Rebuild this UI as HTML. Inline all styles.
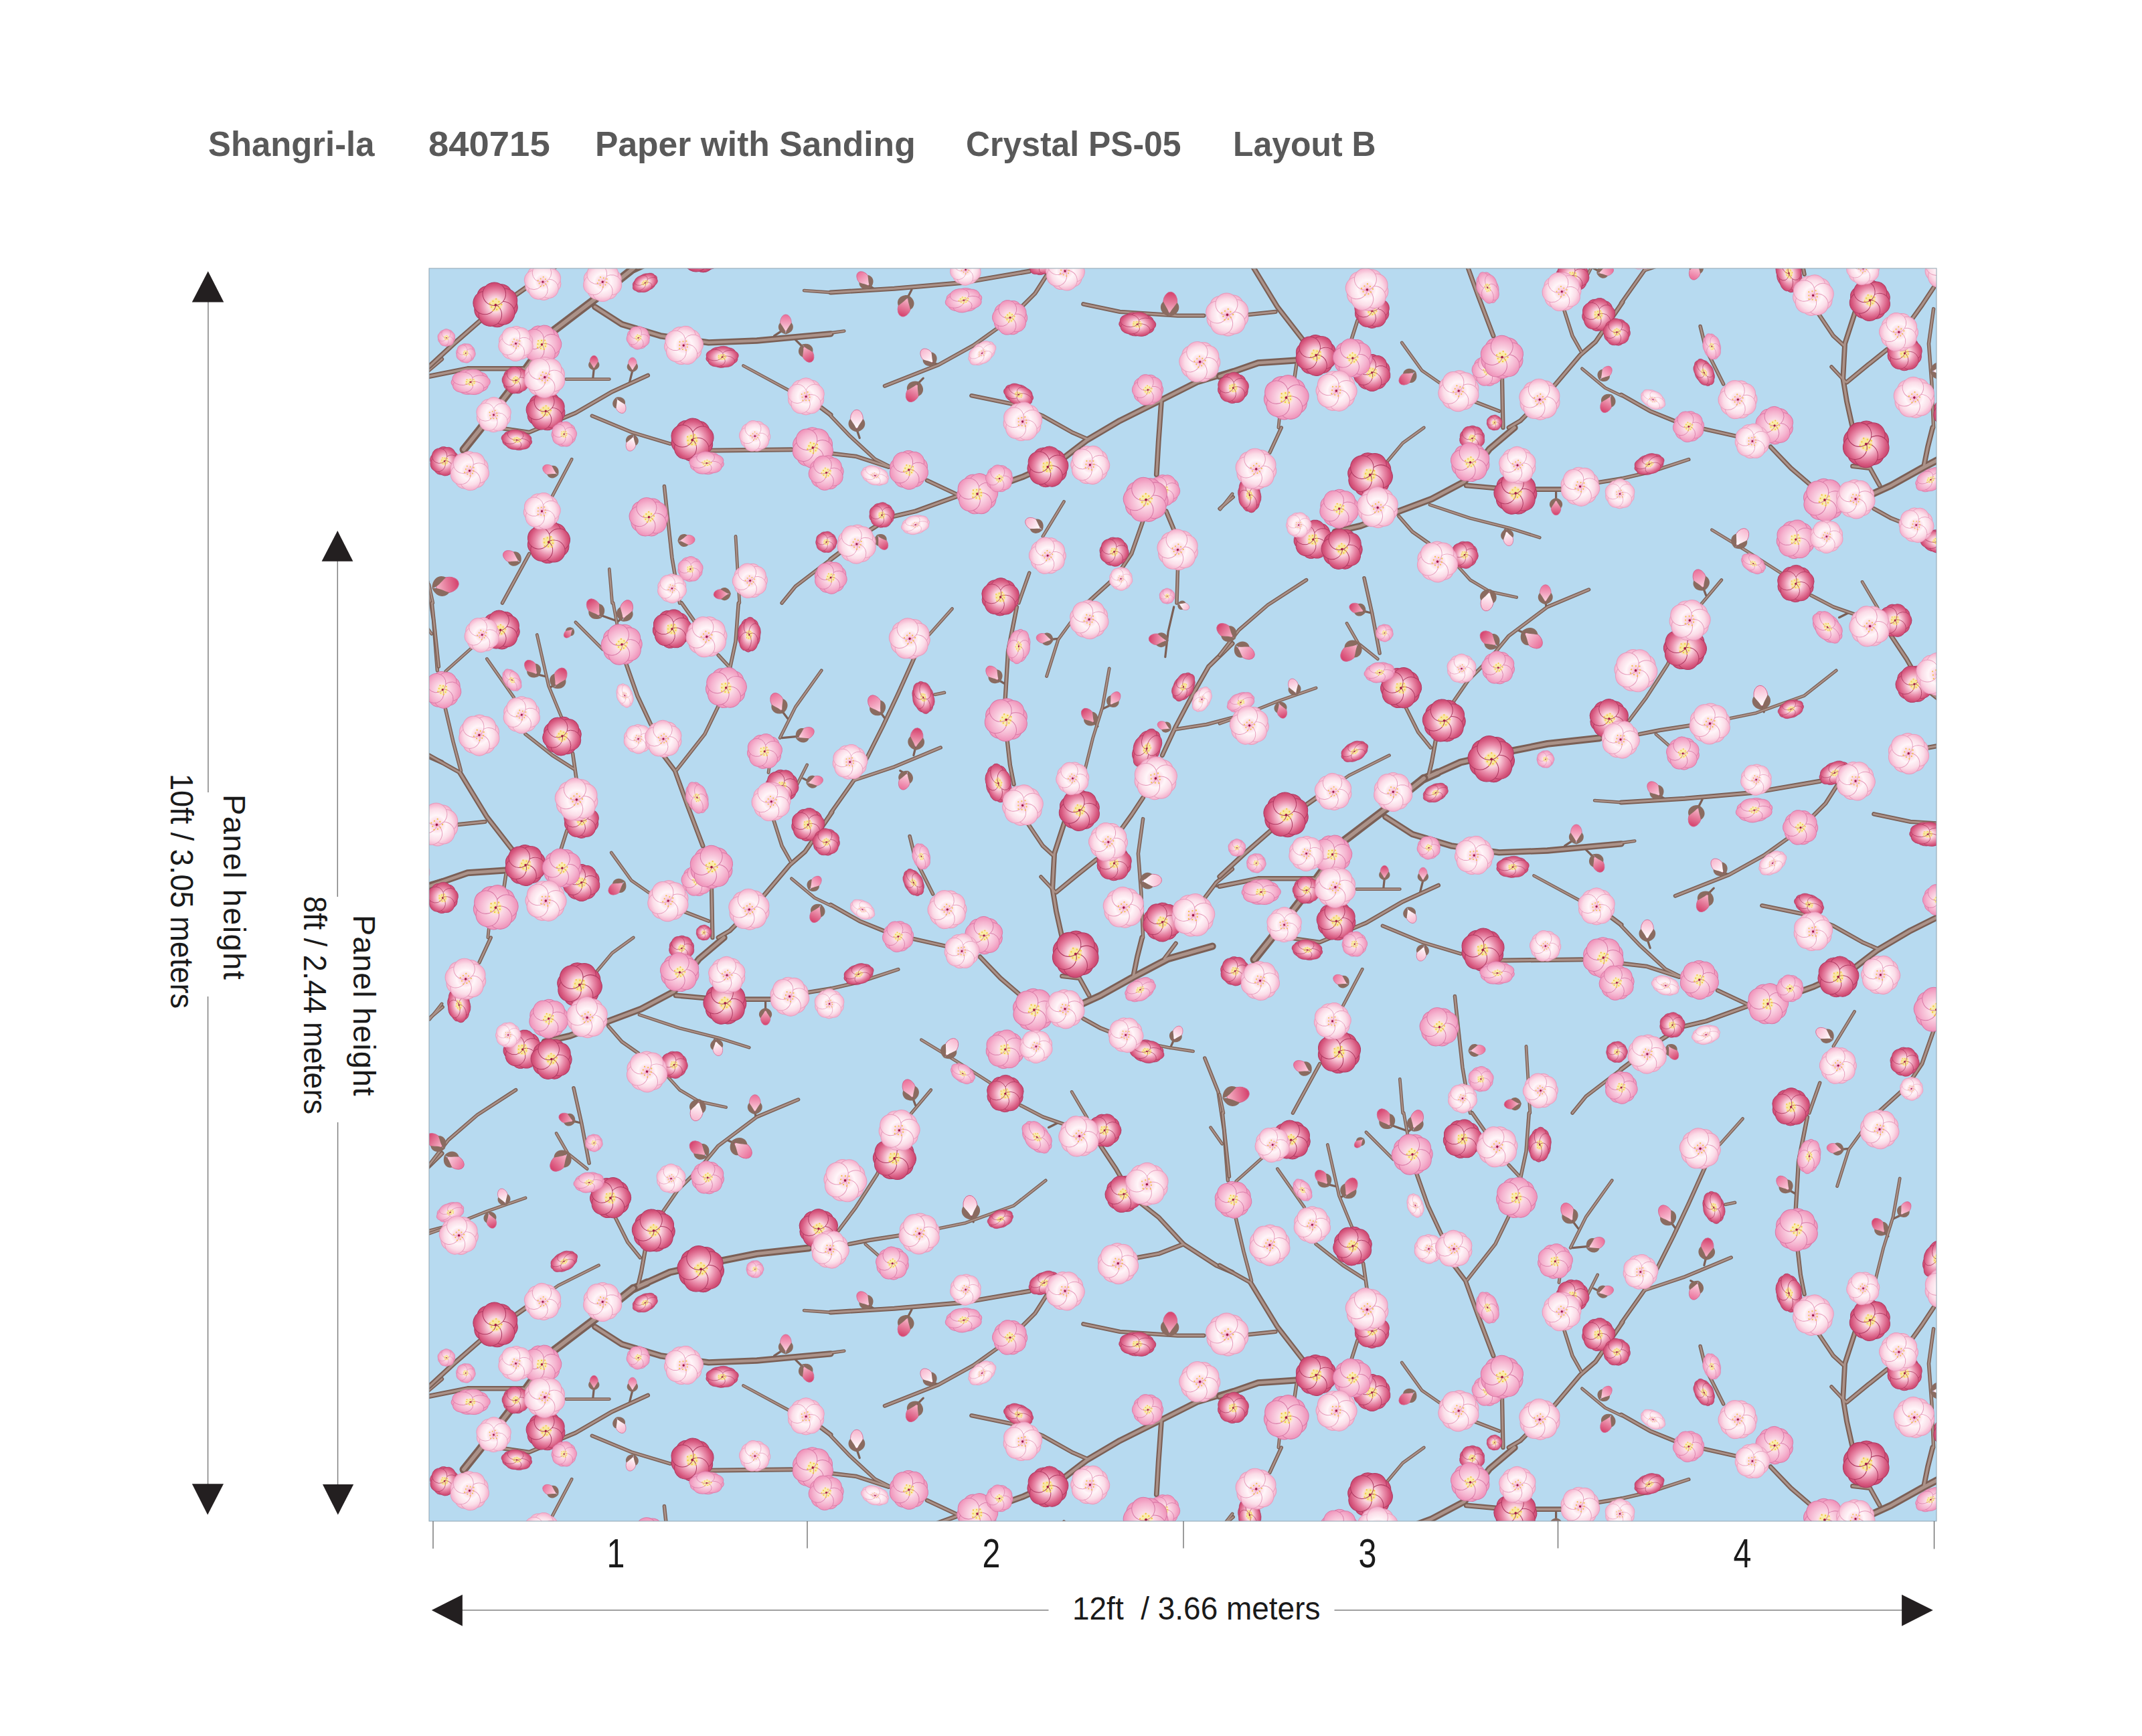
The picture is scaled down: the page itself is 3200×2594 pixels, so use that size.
<!DOCTYPE html>
<html>
<head>
<meta charset="utf-8">
<title>Shangri-la 840715 Layout B</title>
<style>
  html, body { margin: 0; padding: 0; background: #fff; }
  body { width: 3200px; height: 2594px; position: relative; overflow: hidden;
         font-family: "Liberation Sans", sans-serif; color: #1a1a1a; }
  .hd { position: absolute; top: 180px; height: 70px; line-height: 70px; font-size: 52px;
        font-weight: bold; color: #595959; white-space: nowrap; transform-origin: 0 50%; }
  .num { position: absolute; top: 2286px; width: 80px; margin-left: -40px; text-align: center;
         font-size: 62px; line-height: 70px; transform: scaleX(0.78); color: #1a1a1a; }
  .vt { position: absolute; white-space: nowrap; font-size: 47px; line-height: 50px;
        transform-origin: 0 0; transform: rotate(90deg); color: #1a1a1a; }
  .vm { font-size: 48px; transform: rotate(90deg) scaleX(0.94); }
  .ht { position: absolute; white-space: pre; font-size: 49px; line-height: 50px; color: #1a1a1a;
        transform-origin: 0 50%; transform: scaleX(0.938); }
  svg { position: absolute; left: 0; top: 0; }
</style>
</head>
<body>

<!-- header -->
<div class="hd" id="h1" style="left:310.5px; transform:scaleX(0.977);">Shangri-la</div>
<div class="hd" id="h2" style="left:639.5px; transform:scaleX(1.047);">840715</div>
<div class="hd" id="h3" style="left:889px; transform:scaleX(0.992);">Paper with Sanding</div>
<div class="hd" id="h4" style="left:1442.5px; transform:scaleX(0.959);">Crystal PS-05</div>
<div class="hd" id="h5" style="left:1842px; transform:scaleX(0.960);">Layout B</div>

<!-- main drawing -->
<svg id="art" width="3200" height="2594" viewBox="0 0 3200 2594">
  <defs>
    <clipPath id="pc"><rect x="641" y="401" width="2252" height="1872"/></clipPath>
  </defs>

  <!-- panel background -->
  <rect x="641" y="401" width="2252" height="1872" fill="#b7daf0"/>

  <g clip-path="url(#pc)" id="pattern">
    <defs>
<radialGradient id="gW" gradientUnits="userSpaceOnUse" cx="0" cy="0" r="1"><stop offset="0" stop-color="#f5a9c5"/><stop offset="0.15" stop-color="#fbd3e1"/><stop offset="0.42" stop-color="#fff6f9"/><stop offset="0.72" stop-color="#fbdde8"/><stop offset="1" stop-color="#f4a8c8"/></radialGradient>
<radialGradient id="gP" gradientUnits="userSpaceOnUse" cx="0" cy="0" r="1"><stop offset="0" stop-color="#f6ea8c"/><stop offset="0.2" stop-color="#fbedb2"/><stop offset="0.32" stop-color="#fbdbe7"/><stop offset="0.7" stop-color="#f5b3cf"/><stop offset="1" stop-color="#ee8db6"/></radialGradient>
<radialGradient id="gC" gradientUnits="userSpaceOnUse" cx="0" cy="0" r="1"><stop offset="0" stop-color="#f6ea8c"/><stop offset="0.2" stop-color="#f9e6a2"/><stop offset="0.32" stop-color="#fad6e0"/><stop offset="0.6" stop-color="#ea8dab"/><stop offset="0.85" stop-color="#d6577e"/><stop offset="1" stop-color="#c5416a"/></radialGradient>
<linearGradient id="lb" x1="0" y1="0" x2="0" y2="1"><stop offset="0" stop-color="#ea6d98"/><stop offset="1" stop-color="#fbd3e0"/></linearGradient>
<linearGradient id="lc" x1="0" y1="0" x2="0" y2="1"><stop offset="0" stop-color="#d43f6b"/><stop offset="1" stop-color="#f6b5c8"/></linearGradient>
<linearGradient id="lw" x1="0" y1="0" x2="0" y2="1"><stop offset="0" stop-color="#f7b4cd"/><stop offset="1" stop-color="#ffffff"/></linearGradient>
<g id="fW"><g fill="url(#gW)" stroke="#e79bbb" stroke-width="0.03"><circle cx="0.294" cy="-0.405" r="0.46"/><circle cx="0.476" cy="0.155" r="0.46"/><circle cx="0.000" cy="0.500" r="0.46"/><circle cx="-0.476" cy="0.155" r="0.46"/><circle cx="-0.294" cy="-0.405" r="0.46"/><circle cx="0.000" cy="-0.480" r="0.5"/><circle cx="0.457" cy="-0.148" r="0.5"/><circle cx="0.282" cy="0.388" r="0.5"/><circle cx="-0.282" cy="0.388" r="0.5"/><circle cx="-0.457" cy="-0.148" r="0.5"/></g><g fill="#f2c14e"><circle cx="0.197" cy="0.035" r="0.035"/><circle cx="0.167" cy="0.199" r="0.035"/><circle cx="0.000" cy="0.200" r="0.035"/><circle cx="-0.167" cy="0.199" r="0.035"/><circle cx="-0.197" cy="0.035" r="0.035"/><circle cx="-0.225" cy="-0.130" r="0.035"/><circle cx="-0.068" cy="-0.188" r="0.035"/><circle cx="0.089" cy="-0.244" r="0.035"/><circle cx="0.173" cy="-0.100" r="0.035"/></g><circle r="0.055" fill="#a01845"/></g>
<g id="fP"><g fill="url(#gP)" stroke="#d978a6" stroke-width="0.03"><circle cx="0.294" cy="-0.405" r="0.46"/><circle cx="0.476" cy="0.155" r="0.46"/><circle cx="0.000" cy="0.500" r="0.46"/><circle cx="-0.476" cy="0.155" r="0.46"/><circle cx="-0.294" cy="-0.405" r="0.46"/><circle cx="0.000" cy="-0.480" r="0.5"/><circle cx="0.457" cy="-0.148" r="0.5"/><circle cx="0.282" cy="0.388" r="0.5"/><circle cx="-0.282" cy="0.388" r="0.5"/><circle cx="-0.457" cy="-0.148" r="0.5"/></g><g fill="#f0c83a"><circle cx="0.197" cy="0.035" r="0.035"/><circle cx="0.167" cy="0.199" r="0.035"/><circle cx="0.000" cy="0.200" r="0.035"/><circle cx="-0.167" cy="0.199" r="0.035"/><circle cx="-0.197" cy="0.035" r="0.035"/><circle cx="-0.225" cy="-0.130" r="0.035"/><circle cx="-0.068" cy="-0.188" r="0.035"/><circle cx="0.089" cy="-0.244" r="0.035"/><circle cx="0.173" cy="-0.100" r="0.035"/></g><circle r="0.055" fill="#a01845"/></g>
<g id="fC"><g fill="url(#gC)" stroke="#b03a62" stroke-width="0.03"><circle cx="0.294" cy="-0.405" r="0.46"/><circle cx="0.476" cy="0.155" r="0.46"/><circle cx="0.000" cy="0.500" r="0.46"/><circle cx="-0.476" cy="0.155" r="0.46"/><circle cx="-0.294" cy="-0.405" r="0.46"/><circle cx="0.000" cy="-0.480" r="0.5"/><circle cx="0.457" cy="-0.148" r="0.5"/><circle cx="0.282" cy="0.388" r="0.5"/><circle cx="-0.282" cy="0.388" r="0.5"/><circle cx="-0.457" cy="-0.148" r="0.5"/></g><g fill="#f2cf45"><circle cx="0.197" cy="0.035" r="0.035"/><circle cx="0.167" cy="0.199" r="0.035"/><circle cx="0.000" cy="0.200" r="0.035"/><circle cx="-0.167" cy="0.199" r="0.035"/><circle cx="-0.197" cy="0.035" r="0.035"/><circle cx="-0.225" cy="-0.130" r="0.035"/><circle cx="-0.068" cy="-0.188" r="0.035"/><circle cx="0.089" cy="-0.244" r="0.035"/><circle cx="0.173" cy="-0.100" r="0.035"/></g><circle r="0.055" fill="#a01845"/></g>
<g id="ub"><ellipse cx="0" cy="-0.15" rx="0.56" ry="0.82" fill="url(#lb)" stroke="#d4658f" stroke-width="0.05"/><path d="M0,1 C-0.85,0.8 -0.85,0.1 -0.55,-0.15 C-0.3,0.3 0,0.55 0,1Z M0,1 C0.85,0.8 0.85,0.1 0.55,-0.15 C0.3,0.3 0,0.55 0,1Z" fill="#8a6b60"/></g>
<g id="uc"><ellipse cx="0" cy="-0.15" rx="0.56" ry="0.82" fill="url(#lc)" stroke="#d4658f" stroke-width="0.05"/><path d="M0,1 C-0.85,0.8 -0.85,0.1 -0.55,-0.15 C-0.3,0.3 0,0.55 0,1Z M0,1 C0.85,0.8 0.85,0.1 0.55,-0.15 C0.3,0.3 0,0.55 0,1Z" fill="#8a6b60"/></g>
<g id="uw"><ellipse cx="0" cy="-0.15" rx="0.56" ry="0.82" fill="url(#lw)" stroke="#d4658f" stroke-width="0.05"/><path d="M0,1 C-0.85,0.8 -0.85,0.1 -0.55,-0.15 C-0.3,0.3 0,0.55 0,1Z M0,1 C0.85,0.8 0.85,0.1 0.55,-0.15 C0.3,0.3 0,0.55 0,1Z" fill="#8a6b60"/></g>
<g id="tb" fill="none" stroke-linecap="round" stroke-linejoin="round">
<g stroke="#7b5f55"><path d="M305.3,0.0 L247.7,46.1 L187.2,92.2 L123.9,178.6 L74.9,242.0 L51.8,270.8" stroke-width="12.5"/><path d="M325.5,1515.6 L305.3,1524.8" stroke-width="12.5"/><path d="M567.5,1463.8 L489.7,1472.4 L432.1,1483.9 L360.1,1500.0 L325.5,1515.6" stroke-width="10.8"/><path d="M1170.3,1013.0 L1104.1,1031.7 L1049.4,1060.5 L1003.3,1086.4 L971.6,1100.8" stroke-width="10.8"/><path d="M0.0,923.4 L57.6,903.3 L121.0,898.9" stroke-width="10.0"/><path d="M440.7,1000.0 L403.3,1031.7 L365.8,1080.7 L316.9,1106.6 L270.8,1123.9 L210.3,1146.9 L172.8,1155.5" stroke-width="10.0"/><path d="M247.7,57.6 L288.0,83.5 L345.7,100.8 L417.7,110.9 L489.7,108.0 L600.0,97.9" stroke-width="9.3"/><path d="M1200.0,154.1 L1147.3,169.9 L1089.7,198.8 L1032.1,227.6 L983.1,256.4 L945.7,285.2 L888.0,311.1 L867.9,318.3" stroke-width="9.3"/><path d="M1094.0,198.8 L1089.7,259.2 L1086.8,308.2" stroke-width="7.8"/><path d="M46.1,753.5 L86.4,819.7 L126.7,871.6" stroke-width="7.8"/><path d="M950.0,825.5 L934.1,874.5 L931.3,926.3 L937.0,960.9 L945.7,1000.0" stroke-width="7.8"/><path d="M368.7,1086.4 L432.1,1092.2 L512.7,1092.2" stroke-width="7.8"/><path d="M1065.2,1000.0 L1058.0,1028.8 L1052.2,1057.6" stroke-width="7.8"/><path d="M0.0,146.9 L37.4,112.3 L83.5,72.0 L146.9,27.4" stroke-width="7.4"/><path d="M0.0,161.3 L57.6,149.8 L141.1,149.8" stroke-width="7.4"/><path d="M411.9,272.2 L541.5,270.8" stroke-width="7.0"/><path d="M584.7,207.4 L600.0,218.9" stroke-width="7.0"/><path d="M600.0,36.0 L695.1,30.2 L795.9,21.6 L896.7,4.3" stroke-width="7.0"/><path d="M790.1,339.9 L726.7,362.9 L689.3,371.6 L657.6,391.7 L600.0,434.9" stroke-width="7.0"/><path d="M1101.2,362.9 L1115.6,397.5" stroke-width="7.0"/><path d="M350.0,727.6 L367.3,750.6 L386.0,802.4 L409.0,862.9" stroke-width="7.0"/><path d="M602.0,812.5 L561.7,871.6 L538.6,891.7 L489.7,949.4 L449.4,989.7 L432.1,1000.0" stroke-width="7.0"/><path d="M1200.0,560.5 L1164.6,595.1 L1141.5,635.4 L1115.6,684.3 L1095.4,727.6" stroke-width="7.0"/><path d="M1066.6,790.9 L1049.4,816.9 L1034.9,837.0" stroke-width="7.0"/><path d="M997.5,883.1 L968.7,906.1 L937.0,932.1" stroke-width="7.0"/><path d="M823.2,1028.8 L853.5,1060.5 L883.7,1086.4" stroke-width="7.0"/><path d="M945.7,1057.6 L971.6,1060.5 L986.0,1086.4" stroke-width="7.0"/><path d="M1003.3,1311.1 L1026.3,1345.7 L1049.4,1386.0 L1089.7,1417.7 L1127.1,1458.0 L1176.1,1489.7 L1200.0,1500.0" stroke-width="7.0"/><path d="M1127.1,1458.0 L1089.7,1472.4 L1058.0,1478.2" stroke-width="7.0"/><path d="M109.5,239.1 L149.8,244.8 L218.9,216.0 L273.6,184.3 L326.9,159.9" stroke-width="6.3"/><path d="M925.5,5.8 L905.3,37.4 L885.2,57.6" stroke-width="6.3"/><path d="M977.3,53.3 L1032.1,64.8 L1118.5,70.6 L1157.4,70.6" stroke-width="6.3"/><path d="M810.3,190.1 L873.6,203.1 L916.9,220.4 L960.1,244.8 L983.1,254.9" stroke-width="6.3"/><path d="M744.0,316.9 L790.1,338.5" stroke-width="6.3"/><path d="M600.0,276.5 L637.4,280.8 L686.4,296.7" stroke-width="6.3"/><path d="M1066.6,377.3 L1049.4,426.3 L1026.3,460.9 L983.1,500.0" stroke-width="6.3"/><path d="M0.0,727.6 L46.1,753.5" stroke-width="6.3"/><path d="M28.8,832.7 L83.5,826.9" stroke-width="6.3"/><path d="M293.8,589.3 L311.1,638.3 L331.3,681.5" stroke-width="6.3"/><path d="M422.0,926.3 L423.4,1000.0" stroke-width="6.3"/><path d="M725.3,580.7 L700.8,635.4 L677.8,684.3 L654.7,730.4 L634.6,765.0 L600.0,814.0" stroke-width="6.3"/><path d="M878.0,505.8 L865.0,572.0 L860.7,644.0" stroke-width="6.3"/><path d="M863.6,704.5 L867.9,742.0 L873.6,770.8" stroke-width="6.3"/><path d="M893.8,828.4 L916.9,862.9 L932.7,877.3" stroke-width="6.3"/><path d="M600.0,950.8 L643.2,975.3 L689.3,994.0" stroke-width="6.3"/><path d="M1200.0,897.5 L1176.1,917.7 L1158.8,940.7" stroke-width="6.3"/><path d="M564.6,1082.1 L600.0,1076.3" stroke-width="6.3"/><path d="M345.7,1414.8 L325.5,1452.2 L316.9,1500.0 L312.5,1518.5" stroke-width="6.3"/><path d="M721.0,1001.4 L772.8,1013.0" stroke-width="6.3"/><path d="M1115.6,1008.6 L1098.3,1031.7" stroke-width="6.3"/><path d="M977.3,1121.0 L1003.3,1135.4 L1017.7,1141.1" stroke-width="6.3"/><path d="M703.7,1445.0 L657.6,1452.2 L627.4,1458.0" stroke-width="6.3"/><path d="M853.5,86.4 L813.2,115.2 L761.3,144.0 L680.7,175.7" stroke-width="5.9"/><path d="M243.4,220.4 L302.4,244.8 L360.1,262.1" stroke-width="5.5"/><path d="M149.8,426.3 L109.5,500.0" stroke-width="5.5"/><path d="M351.4,325.5 L362.9,432.1 L374.5,500.0" stroke-width="5.5"/><path d="M600.0,434.9 L547.3,475.3 L527.1,500.0" stroke-width="5.5"/><path d="M600.0,220.4 L628.8,250.6 L666.3,285.2 L689.3,296.7" stroke-width="5.5"/><path d="M896.7,455.1 L880.8,500.0" stroke-width="5.5"/><path d="M1118.5,449.4 L1117.0,500.0" stroke-width="5.5"/><path d="M4.3,500.0 L14.4,595.1" stroke-width="5.5"/><path d="M24.5,658.4 L36.0,707.4 L47.5,750.6" stroke-width="5.5"/><path d="M115.2,903.3 L110.9,932.1" stroke-width="5.5"/><path d="M144.0,695.9 L184.3,727.6 L216.0,747.7" stroke-width="5.5"/><path d="M214.6,724.7 L220.4,765.0" stroke-width="5.5"/><path d="M206.0,839.9 L195.9,871.6" stroke-width="5.5"/><path d="M370.1,749.2 L411.9,695.9 L433.5,651.2" stroke-width="5.5"/><path d="M377.3,500.0 L397.5,528.8" stroke-width="5.5"/><path d="M432.1,577.8 L449.4,596.5" stroke-width="5.5"/><path d="M462.3,500.0 L458.0,557.6 L449.4,597.9" stroke-width="5.5"/><path d="M514.2,822.6 L527.1,862.9 L540.1,886.0" stroke-width="5.5"/><path d="M380.2,960.9 L417.7,975.3" stroke-width="5.5"/><path d="M634.6,765.0 L695.1,744.8 L764.2,716.0" stroke-width="5.5"/><path d="M1115.6,688.7 L1161.7,681.5 L1200.0,671.4" stroke-width="5.5"/><path d="M914.0,909.0 L935.6,932.1" stroke-width="5.5"/><path d="M1066.6,822.6 L1059.4,874.5 L1063.8,932.1 L1066.6,1000.0" stroke-width="5.5"/><path d="M718.1,848.5 L726.7,883.1 L752.7,934.9" stroke-width="5.5"/><path d="M92.2,1000.0 L74.9,1037.4" stroke-width="5.5"/><path d="M20.2,1103.7 L0.0,1121.0" stroke-width="5.5"/><path d="M267.9,1132.5 L288.0,1155.5 L312.5,1172.8" stroke-width="5.5"/><path d="M129.6,1227.6 L72.0,1265.0 L28.8,1302.4 L0.0,1339.9" stroke-width="5.5"/><path d="M216.0,1224.7 L227.6,1276.5 L239.1,1337.0" stroke-width="5.5"/><path d="M551.6,1242.0 L489.7,1267.9 L432.1,1311.1 L403.3,1345.7 L371.6,1377.3 L345.7,1414.8" stroke-width="5.5"/><path d="M276.5,1414.8 L296.7,1455.1 L315.4,1478.2" stroke-width="5.5"/><path d="M700.8,1047.5 L643.2,1066.3 L600.0,1076.3" stroke-width="5.5"/><path d="M883.7,1250.6 L916.9,1267.9 L950.0,1279.4" stroke-width="5.5"/><path d="M689.3,1311.1 L669.1,1354.3 L637.4,1403.3 L611.5,1437.8" stroke-width="5.5"/><path d="M1158.8,1180.0 L1179.0,1230.4 L1187.6,1288.0 L1193.4,1362.9" stroke-width="5.5"/><path d="M204.5,165.6 L269.3,165.6" stroke-width="4.8"/><path d="M469.5,145.5 L538.6,182.9" stroke-width="4.8"/><path d="M213.2,285.2 L184.3,339.9" stroke-width="4.8"/><path d="M458.0,400.4 L463.8,500.0" stroke-width="4.8"/><path d="M269.3,449.4 L273.6,500.0" stroke-width="4.8"/><path d="M560.2,33.1 L600.0,36.0" stroke-width="4.8"/><path d="M0.0,472.4 L5.8,500.0" stroke-width="4.8"/><path d="M600.0,96.5 L620.2,93.6" stroke-width="4.8"/><path d="M948.5,348.5 L916.9,400.4" stroke-width="4.8"/><path d="M19.0,1099.0 L0.9,1122.1" stroke-width="4.8"/><path d="M66.3,564.8 L24.5,602.3" stroke-width="4.8"/><path d="M86.4,583.5 L126.7,641.1" stroke-width="4.8"/><path d="M161.3,547.5 L178.6,623.9 L198.8,672.8" stroke-width="4.8"/><path d="M218.9,528.8 L259.2,569.1" stroke-width="4.8"/><path d="M275.1,500.0 L280.8,531.7" stroke-width="4.8"/><path d="M586.2,600.8 L547.3,655.5 L524.2,701.6" stroke-width="4.8"/><path d="M511.3,724.7 L507.0,753.5" stroke-width="4.8"/><path d="M564.6,742.0 L547.3,776.5" stroke-width="4.8"/><path d="M541.5,911.9 L576.1,940.7 L600.0,952.2" stroke-width="4.8"/><path d="M272.2,873.0 L302.4,914.8 L331.3,934.9" stroke-width="4.8"/><path d="M89.3,986.8 L87.9,1000.0" stroke-width="4.8"/><path d="M781.5,508.6 L746.9,547.5" stroke-width="4.8"/><path d="M769.9,633.9 L755.5,636.8" stroke-width="4.8"/><path d="M958.6,528.8 L939.9,554.7 L922.6,609.5" stroke-width="4.8"/><path d="M1016.2,597.9 L1006.1,655.5 L991.7,701.6 L980.2,747.7" stroke-width="4.8"/><path d="M305.3,1000.0 L273.6,1023.0 L250.6,1050.4" stroke-width="4.8"/><path d="M314.0,1115.2 L374.5,1135.4 L432.1,1149.8 L478.2,1164.2" stroke-width="4.8"/><path d="M348.5,1198.8 L374.5,1227.6 L403.3,1244.8 L443.6,1253.5" stroke-width="4.8"/><path d="M190.1,1292.4 L207.4,1322.6 L236.2,1345.7" stroke-width="4.8"/><path d="M144.0,1388.9 L86.4,1409.0 L28.8,1432.1 L0.0,1442.2" stroke-width="4.8"/><path d="M253.5,1489.7 L193.0,1519.9 L148.3,1551.6" stroke-width="4.8"/><path d="M1060.9,1155.5 L1104.1,1164.2 L1141.5,1169.9" stroke-width="4.8"/><path d="M735.4,1152.7 L787.2,1184.3 L839.1,1217.5" stroke-width="4.8"/><path d="M960.1,1230.4 L983.1,1269.3" stroke-width="4.8"/><path d="M749.8,1227.6 L719.5,1263.6" stroke-width="4.8"/><path d="M921.2,1362.9 L873.6,1400.4 L801.6,1426.3 L759.9,1434.9" stroke-width="4.8"/><path d="M651.8,1458.0 L674.9,1478.2" stroke-width="4.8"/><path d="M1167.5,1283.7 L1184.7,1308.2" stroke-width="4.8"/><path d="M244.8,164.2 L246.3,149.8" stroke-width="3.2"/><path d="M299.6,169.9 L303.9,152.7" stroke-width="3.2"/><path d="M515.6,100.8 L532.9,89.3" stroke-width="3.2"/><path d="M547.3,106.6 L561.7,121.0" stroke-width="3.2"/><path d="M638.9,240.5 L643.2,253.5" stroke-width="3.2"/><path d="M657.6,25.9 L666.3,31.7" stroke-width="3.2"/><path d="M715.2,43.2 L721.0,31.7" stroke-width="3.2"/><path d="M752.7,141.1 L761.3,144.0" stroke-width="3.2"/><path d="M729.6,172.8 L738.3,164.2" stroke-width="3.2"/><path d="M253.5,517.3 L278.0,525.9" stroke-width="3.2"/><path d="M290.9,520.2 L280.8,528.8" stroke-width="3.2"/><path d="M161.3,606.6 L172.8,609.5" stroke-width="3.2"/><path d="M190.1,621.0 L180.0,626.7" stroke-width="3.2"/><path d="M527.1,661.3 L535.8,672.8" stroke-width="3.2"/><path d="M555.9,698.8 L527.1,701.6" stroke-width="3.2"/><path d="M570.3,767.9 L558.8,762.1" stroke-width="3.2"/><path d="M723.9,727.6 L726.7,716.0" stroke-width="3.2"/><path d="M926.9,554.7 L939.9,553.3" stroke-width="3.2"/><path d="M1112.7,505.8 L1104.1,543.2 L1099.8,580.7" stroke-width="3.2"/><path d="M19.0,155.7 L-4.9,161.4" stroke-width="3.2"/><path d="M674.9,664.2 L683.5,675.7" stroke-width="3.2"/><path d="M850.6,615.2 L860.7,621.0" stroke-width="3.2"/><path d="M993.2,678.6 L998.9,684.3" stroke-width="3.2"/><path d="M1017.7,652.7 L1006.1,658.4" stroke-width="3.2"/><path d="M713.8,756.4 L703.7,750.6" stroke-width="3.2"/><path d="M502.6,1095.1 L502.6,1109.5" stroke-width="3.2"/><path d="M426.3,1152.7 L429.2,1158.4" stroke-width="3.2"/><path d="M213.2,1273.6 L224.7,1276.5" stroke-width="3.2"/><path d="M486.8,1259.2 L488.2,1269.3" stroke-width="3.2"/><path d="M458.0,1308.2 L445.0,1302.4" stroke-width="3.2"/><path d="M17.3,1316.9 L11.5,1325.5" stroke-width="3.2"/><path d="M925.5,1283.7 L939.9,1276.5" stroke-width="3.2"/><path d="M1112.7,1152.7 L1107.0,1165.6" stroke-width="3.2"/><path d="M810.3,1414.8 L813.2,1424.9" stroke-width="3.2"/><path d="M722.4,1239.1 L726.7,1250.6" stroke-width="3.2"/></g>
<g stroke="#ab9289"><path d="M305.3,0.0 L247.7,46.1 L187.2,92.2 L123.9,178.6 L74.9,242.0 L51.8,270.8" stroke-width="5.6"/><path d="M325.5,1515.6 L305.3,1524.8" stroke-width="5.6"/><path d="M567.5,1463.8 L489.7,1472.4 L432.1,1483.9 L360.1,1500.0 L325.5,1515.6" stroke-width="4.9"/><path d="M1170.3,1013.0 L1104.1,1031.7 L1049.4,1060.5 L1003.3,1086.4 L971.6,1100.8" stroke-width="4.9"/><path d="M0.0,923.4 L57.6,903.3 L121.0,898.9" stroke-width="4.5"/><path d="M440.7,1000.0 L403.3,1031.7 L365.8,1080.7 L316.9,1106.6 L270.8,1123.9 L210.3,1146.9 L172.8,1155.5" stroke-width="4.5"/><path d="M247.7,57.6 L288.0,83.5 L345.7,100.8 L417.7,110.9 L489.7,108.0 L600.0,97.9" stroke-width="4.2"/><path d="M1200.0,154.1 L1147.3,169.9 L1089.7,198.8 L1032.1,227.6 L983.1,256.4 L945.7,285.2 L888.0,311.1 L867.9,318.3" stroke-width="4.2"/><path d="M1094.0,198.8 L1089.7,259.2 L1086.8,308.2" stroke-width="3.5"/><path d="M46.1,753.5 L86.4,819.7 L126.7,871.6" stroke-width="3.5"/><path d="M950.0,825.5 L934.1,874.5 L931.3,926.3 L937.0,960.9 L945.7,1000.0" stroke-width="3.5"/><path d="M368.7,1086.4 L432.1,1092.2 L512.7,1092.2" stroke-width="3.5"/><path d="M1065.2,1000.0 L1058.0,1028.8 L1052.2,1057.6" stroke-width="3.5"/><path d="M0.0,146.9 L37.4,112.3 L83.5,72.0 L146.9,27.4" stroke-width="3.3"/><path d="M0.0,161.3 L57.6,149.8 L141.1,149.8" stroke-width="3.3"/><path d="M411.9,272.2 L541.5,270.8" stroke-width="3.2"/><path d="M584.7,207.4 L600.0,218.9" stroke-width="3.2"/><path d="M600.0,36.0 L695.1,30.2 L795.9,21.6 L896.7,4.3" stroke-width="3.2"/><path d="M790.1,339.9 L726.7,362.9 L689.3,371.6 L657.6,391.7 L600.0,434.9" stroke-width="3.2"/><path d="M1101.2,362.9 L1115.6,397.5" stroke-width="3.2"/><path d="M350.0,727.6 L367.3,750.6 L386.0,802.4 L409.0,862.9" stroke-width="3.2"/><path d="M602.0,812.5 L561.7,871.6 L538.6,891.7 L489.7,949.4 L449.4,989.7 L432.1,1000.0" stroke-width="3.2"/><path d="M1200.0,560.5 L1164.6,595.1 L1141.5,635.4 L1115.6,684.3 L1095.4,727.6" stroke-width="3.2"/><path d="M1066.6,790.9 L1049.4,816.9 L1034.9,837.0" stroke-width="3.2"/><path d="M997.5,883.1 L968.7,906.1 L937.0,932.1" stroke-width="3.2"/><path d="M823.2,1028.8 L853.5,1060.5 L883.7,1086.4" stroke-width="3.2"/><path d="M945.7,1057.6 L971.6,1060.5 L986.0,1086.4" stroke-width="3.2"/><path d="M1003.3,1311.1 L1026.3,1345.7 L1049.4,1386.0 L1089.7,1417.7 L1127.1,1458.0 L1176.1,1489.7 L1200.0,1500.0" stroke-width="3.2"/><path d="M1127.1,1458.0 L1089.7,1472.4 L1058.0,1478.2" stroke-width="3.2"/><path d="M109.5,239.1 L149.8,244.8 L218.9,216.0 L273.6,184.3 L326.9,159.9" stroke-width="2.8"/><path d="M925.5,5.8 L905.3,37.4 L885.2,57.6" stroke-width="2.8"/><path d="M977.3,53.3 L1032.1,64.8 L1118.5,70.6 L1157.4,70.6" stroke-width="2.8"/><path d="M810.3,190.1 L873.6,203.1 L916.9,220.4 L960.1,244.8 L983.1,254.9" stroke-width="2.8"/><path d="M744.0,316.9 L790.1,338.5" stroke-width="2.8"/><path d="M600.0,276.5 L637.4,280.8 L686.4,296.7" stroke-width="2.8"/><path d="M1066.6,377.3 L1049.4,426.3 L1026.3,460.9 L983.1,500.0" stroke-width="2.8"/><path d="M0.0,727.6 L46.1,753.5" stroke-width="2.8"/><path d="M28.8,832.7 L83.5,826.9" stroke-width="2.8"/><path d="M293.8,589.3 L311.1,638.3 L331.3,681.5" stroke-width="2.8"/><path d="M422.0,926.3 L423.4,1000.0" stroke-width="2.8"/><path d="M725.3,580.7 L700.8,635.4 L677.8,684.3 L654.7,730.4 L634.6,765.0 L600.0,814.0" stroke-width="2.8"/><path d="M878.0,505.8 L865.0,572.0 L860.7,644.0" stroke-width="2.8"/><path d="M863.6,704.5 L867.9,742.0 L873.6,770.8" stroke-width="2.8"/><path d="M893.8,828.4 L916.9,862.9 L932.7,877.3" stroke-width="2.8"/><path d="M600.0,950.8 L643.2,975.3 L689.3,994.0" stroke-width="2.8"/><path d="M1200.0,897.5 L1176.1,917.7 L1158.8,940.7" stroke-width="2.8"/><path d="M564.6,1082.1 L600.0,1076.3" stroke-width="2.8"/><path d="M345.7,1414.8 L325.5,1452.2 L316.9,1500.0 L312.5,1518.5" stroke-width="2.8"/><path d="M721.0,1001.4 L772.8,1013.0" stroke-width="2.8"/><path d="M1115.6,1008.6 L1098.3,1031.7" stroke-width="2.8"/><path d="M977.3,1121.0 L1003.3,1135.4 L1017.7,1141.1" stroke-width="2.8"/><path d="M703.7,1445.0 L657.6,1452.2 L627.4,1458.0" stroke-width="2.8"/><path d="M853.5,86.4 L813.2,115.2 L761.3,144.0 L680.7,175.7" stroke-width="2.7"/><path d="M243.4,220.4 L302.4,244.8 L360.1,262.1" stroke-width="2.5"/><path d="M149.8,426.3 L109.5,500.0" stroke-width="2.5"/><path d="M351.4,325.5 L362.9,432.1 L374.5,500.0" stroke-width="2.5"/><path d="M600.0,434.9 L547.3,475.3 L527.1,500.0" stroke-width="2.5"/><path d="M600.0,220.4 L628.8,250.6 L666.3,285.2 L689.3,296.7" stroke-width="2.5"/><path d="M896.7,455.1 L880.8,500.0" stroke-width="2.5"/><path d="M1118.5,449.4 L1117.0,500.0" stroke-width="2.5"/><path d="M4.3,500.0 L14.4,595.1" stroke-width="2.5"/><path d="M24.5,658.4 L36.0,707.4 L47.5,750.6" stroke-width="2.5"/><path d="M115.2,903.3 L110.9,932.1" stroke-width="2.5"/><path d="M144.0,695.9 L184.3,727.6 L216.0,747.7" stroke-width="2.5"/><path d="M214.6,724.7 L220.4,765.0" stroke-width="2.5"/><path d="M206.0,839.9 L195.9,871.6" stroke-width="2.5"/><path d="M370.1,749.2 L411.9,695.9 L433.5,651.2" stroke-width="2.5"/><path d="M377.3,500.0 L397.5,528.8" stroke-width="2.5"/><path d="M432.1,577.8 L449.4,596.5" stroke-width="2.5"/><path d="M462.3,500.0 L458.0,557.6 L449.4,597.9" stroke-width="2.5"/><path d="M514.2,822.6 L527.1,862.9 L540.1,886.0" stroke-width="2.5"/><path d="M380.2,960.9 L417.7,975.3" stroke-width="2.5"/><path d="M634.6,765.0 L695.1,744.8 L764.2,716.0" stroke-width="2.5"/><path d="M1115.6,688.7 L1161.7,681.5 L1200.0,671.4" stroke-width="2.5"/><path d="M914.0,909.0 L935.6,932.1" stroke-width="2.5"/><path d="M1066.6,822.6 L1059.4,874.5 L1063.8,932.1 L1066.6,1000.0" stroke-width="2.5"/><path d="M718.1,848.5 L726.7,883.1 L752.7,934.9" stroke-width="2.5"/><path d="M92.2,1000.0 L74.9,1037.4" stroke-width="2.5"/><path d="M20.2,1103.7 L0.0,1121.0" stroke-width="2.5"/><path d="M267.9,1132.5 L288.0,1155.5 L312.5,1172.8" stroke-width="2.5"/><path d="M129.6,1227.6 L72.0,1265.0 L28.8,1302.4 L0.0,1339.9" stroke-width="2.5"/><path d="M216.0,1224.7 L227.6,1276.5 L239.1,1337.0" stroke-width="2.5"/><path d="M551.6,1242.0 L489.7,1267.9 L432.1,1311.1 L403.3,1345.7 L371.6,1377.3 L345.7,1414.8" stroke-width="2.5"/><path d="M276.5,1414.8 L296.7,1455.1 L315.4,1478.2" stroke-width="2.5"/><path d="M700.8,1047.5 L643.2,1066.3 L600.0,1076.3" stroke-width="2.5"/><path d="M883.7,1250.6 L916.9,1267.9 L950.0,1279.4" stroke-width="2.5"/><path d="M689.3,1311.1 L669.1,1354.3 L637.4,1403.3 L611.5,1437.8" stroke-width="2.5"/><path d="M1158.8,1180.0 L1179.0,1230.4 L1187.6,1288.0 L1193.4,1362.9" stroke-width="2.5"/><path d="M204.5,165.6 L269.3,165.6" stroke-width="2.2"/><path d="M469.5,145.5 L538.6,182.9" stroke-width="2.2"/><path d="M213.2,285.2 L184.3,339.9" stroke-width="2.2"/><path d="M458.0,400.4 L463.8,500.0" stroke-width="2.2"/><path d="M269.3,449.4 L273.6,500.0" stroke-width="2.2"/><path d="M560.2,33.1 L600.0,36.0" stroke-width="2.2"/><path d="M0.0,472.4 L5.8,500.0" stroke-width="2.2"/><path d="M600.0,96.5 L620.2,93.6" stroke-width="2.2"/><path d="M948.5,348.5 L916.9,400.4" stroke-width="2.2"/><path d="M19.0,1099.0 L0.9,1122.1" stroke-width="2.2"/><path d="M66.3,564.8 L24.5,602.3" stroke-width="2.2"/><path d="M86.4,583.5 L126.7,641.1" stroke-width="2.2"/><path d="M161.3,547.5 L178.6,623.9 L198.8,672.8" stroke-width="2.2"/><path d="M218.9,528.8 L259.2,569.1" stroke-width="2.2"/><path d="M275.1,500.0 L280.8,531.7" stroke-width="2.2"/><path d="M586.2,600.8 L547.3,655.5 L524.2,701.6" stroke-width="2.2"/><path d="M511.3,724.7 L507.0,753.5" stroke-width="2.2"/><path d="M564.6,742.0 L547.3,776.5" stroke-width="2.2"/><path d="M541.5,911.9 L576.1,940.7 L600.0,952.2" stroke-width="2.2"/><path d="M272.2,873.0 L302.4,914.8 L331.3,934.9" stroke-width="2.2"/><path d="M89.3,986.8 L87.9,1000.0" stroke-width="2.2"/><path d="M781.5,508.6 L746.9,547.5" stroke-width="2.2"/><path d="M769.9,633.9 L755.5,636.8" stroke-width="2.2"/><path d="M958.6,528.8 L939.9,554.7 L922.6,609.5" stroke-width="2.2"/><path d="M1016.2,597.9 L1006.1,655.5 L991.7,701.6 L980.2,747.7" stroke-width="2.2"/><path d="M305.3,1000.0 L273.6,1023.0 L250.6,1050.4" stroke-width="2.2"/><path d="M314.0,1115.2 L374.5,1135.4 L432.1,1149.8 L478.2,1164.2" stroke-width="2.2"/><path d="M348.5,1198.8 L374.5,1227.6 L403.3,1244.8 L443.6,1253.5" stroke-width="2.2"/><path d="M190.1,1292.4 L207.4,1322.6 L236.2,1345.7" stroke-width="2.2"/><path d="M144.0,1388.9 L86.4,1409.0 L28.8,1432.1 L0.0,1442.2" stroke-width="2.2"/><path d="M253.5,1489.7 L193.0,1519.9 L148.3,1551.6" stroke-width="2.2"/><path d="M1060.9,1155.5 L1104.1,1164.2 L1141.5,1169.9" stroke-width="2.2"/><path d="M735.4,1152.7 L787.2,1184.3 L839.1,1217.5" stroke-width="2.2"/><path d="M960.1,1230.4 L983.1,1269.3" stroke-width="2.2"/><path d="M749.8,1227.6 L719.5,1263.6" stroke-width="2.2"/><path d="M921.2,1362.9 L873.6,1400.4 L801.6,1426.3 L759.9,1434.9" stroke-width="2.2"/><path d="M651.8,1458.0 L674.9,1478.2" stroke-width="2.2"/><path d="M1167.5,1283.7 L1184.7,1308.2" stroke-width="2.2"/></g>
</g>
<g id="tf">
<use href="#uc" transform="translate(246.3,141.1) rotate(0) scale(11.2)"/>
<use href="#ub" transform="translate(303.9,144.0) rotate(0) scale(11.2)"/>
<use href="#uw" transform="translate(285.2,204.5) rotate(155) scale(13.1)"/>
<use href="#ub" transform="translate(532.9,83.5) rotate(0) scale(15.0)"/>
<use href="#uc" transform="translate(564.6,126.7) rotate(153) scale(15.0)"/>
<use href="#uw" transform="translate(302.4,260.7) rotate(197) scale(13.1)"/>
<use href="#ub" transform="translate(181.5,302.4) rotate(-62) scale(13.1)"/>
<use href="#ub" transform="translate(384.5,406.1) rotate(84) scale(13.1)"/>
<use href="#ub" transform="translate(123.9,432.1) rotate(-61) scale(15.0)"/>
<use href="#uc" transform="translate(24.5,473.8) rotate(78) scale(20.6)"/>
<use href="#uc" transform="translate(437.8,486.8) rotate(267) scale(13.1)"/>
<use href="#ub" transform="translate(650.4,17.3) rotate(-40) scale(15.0)"/>
<use href="#uc" transform="translate(710.9,56.2) rotate(198) scale(16.9)"/>
<use href="#uw" transform="translate(745.5,132.5) rotate(-40) scale(15.0)"/>
<use href="#uc" transform="translate(723.9,184.3) rotate(207) scale(16.9)"/>
<use href="#uc" transform="translate(1107.0,53.3) rotate(4) scale(18.7)"/>
<use href="#uw" transform="translate(638.9,227.6) rotate(0) scale(16.9)"/>
<use href="#uc" transform="translate(676.3,409.0) rotate(148) scale(13.1)"/>
<use href="#uw" transform="translate(903.9,383.1) rotate(-59) scale(15.0)"/>
<use href="#uc" transform="translate(154.1,597.9) rotate(-40) scale(15.0)"/>
<use href="#uc" transform="translate(194.4,612.3) rotate(27) scale(16.9)"/>
<use href="#uc" transform="translate(247.7,508.6) rotate(-34) scale(16.9)"/>
<use href="#ub" transform="translate(293.8,511.5) rotate(18) scale(16.9)"/>
<use href="#uc" transform="translate(208.8,544.6) rotate(225) scale(9.4)"/>
<use href="#ub" transform="translate(521.4,649.8) rotate(-27) scale(16.9)"/>
<use href="#ub" transform="translate(561.7,695.9) rotate(63) scale(15.0)"/>
<use href="#ub" transform="translate(576.1,766.4) rotate(76) scale(13.1)"/>
<use href="#uc" transform="translate(280.8,924.9) rotate(234) scale(15.0)"/>
<use href="#ub" transform="translate(576.1,919.1) rotate(40) scale(13.1)"/>
<use href="#uc" transform="translate(579.0,963.8) rotate(206) scale(15.0)"/>
<use href="#ub" transform="translate(667.7,652.7) rotate(-32) scale(16.9)"/>
<use href="#uc" transform="translate(728.2,703.1) rotate(6) scale(16.9)"/>
<use href="#ub" transform="translate(710.9,765.0) rotate(198) scale(15.0)"/>
<use href="#ub" transform="translate(843.4,606.6) rotate(-40) scale(15.0)"/>
<use href="#ub" transform="translate(919.7,553.3) rotate(-79) scale(13.1)"/>
<use href="#uc" transform="translate(1089.7,554.7) rotate(-83) scale(15.0)"/>
<use href="#uw" transform="translate(1127.1,504.3) rotate(113) scale(9.4)"/>
<use href="#uc" transform="translate(986.0,669.9) rotate(-40) scale(15.0)"/>
<use href="#ub" transform="translate(1023.4,644.0) rotate(34) scale(13.1)"/>
<use href="#ub" transform="translate(1098.3,684.3) rotate(-65) scale(11.2)"/>
<use href="#uw" transform="translate(1078.2,914.8) rotate(86) scale(16.9)"/>
<use href="#uc" transform="translate(502.6,1118.1) rotate(180) scale(13.1)"/>
<use href="#uw" transform="translate(430.6,1164.2) rotate(166) scale(13.1)"/>
<use href="#uw" transform="translate(400.4,1257.8) rotate(193) scale(16.9)"/>
<use href="#ub" transform="translate(486.8,1249.2) rotate(0) scale(15.0)"/>
<use href="#uc" transform="translate(206.0,1270.8) rotate(-68) scale(13.1)"/>
<use href="#uc" transform="translate(195.9,1334.1) rotate(225) scale(18.7)"/>
<use href="#uc" transform="translate(10.1,1305.3) rotate(-52) scale(16.9)"/>
<use href="#ub" transform="translate(37.4,1334.1) rotate(122) scale(16.9)"/>
<use href="#uc" transform="translate(403.3,1316.9) rotate(-50) scale(16.9)"/>
<use href="#ub" transform="translate(466.6,1315.4) rotate(130) scale(18.7)"/>
<use href="#uw" transform="translate(110.9,1387.4) rotate(-19) scale(13.1)"/>
<use href="#uc" transform="translate(92.2,1422.0) rotate(161) scale(13.1)"/>
<use href="#uw" transform="translate(1117.0,1144.0) rotate(27) scale(13.1)"/>
<use href="#uw" transform="translate(778.6,1165.6) rotate(31) scale(16.9)"/>
<use href="#ub" transform="translate(718.1,1227.6) rotate(-21) scale(16.9)"/>
<use href="#uw" transform="translate(808.8,1403.3) rotate(-7) scale(18.7)"/>
<use href="#fC" transform="translate(322.6,21.6) rotate(-25) scale(20.6,13.5) rotate(49)"/>
<use href="#fC" transform="translate(99.4,54.7) rotate(65) scale(34.5)"/>
<use href="#fC" transform="translate(129.6,167.1) rotate(56) scale(21.0)"/>
<use href="#fC" transform="translate(174.3,213.2) rotate(63) scale(30.0)"/>
<use href="#fC" transform="translate(131.1,256.4) rotate(8) scale(23.8,15.6) rotate(57)"/>
<use href="#fC" transform="translate(23.0,288.0) rotate(29) scale(22.5)"/>
<use href="#fC" transform="translate(437.8,132.5) rotate(-2) scale(25.3,16.6) rotate(7)"/>
<use href="#fC" transform="translate(393.2,256.4) rotate(4) scale(33.0)"/>
<use href="#fC" transform="translate(178.6,409.0) rotate(5) scale(33.0)"/>
<use href="#fC" transform="translate(593.4,409.0) rotate(15) scale(16.5)"/>
<use href="#fC" transform="translate(1058.0,83.5) rotate(4) scale(28.5,18.7) rotate(12)"/>
<use href="#fC" transform="translate(880.8,188.7) rotate(-158) scale(23.8,15.6) rotate(4)"/>
<use href="#fC" transform="translate(924.1,296.7) rotate(11) scale(31.5)"/>
<use href="#fC" transform="translate(676.3,368.7) rotate(7) scale(19.5)"/>
<use href="#fC" transform="translate(1023.4,423.4) rotate(26) scale(22.5)"/>
<use href="#fC" transform="translate(853.5,491.1) rotate(2) scale(29.1)"/>
<use href="#fC" transform="translate(106.6,540.3) rotate(63) scale(30.0)"/>
<use href="#fC" transform="translate(198.8,698.8) rotate(44) scale(30.0)"/>
<use href="#fC" transform="translate(362.9,538.9) rotate(11) scale(30.0)"/>
<use href="#fC" transform="translate(478.2,547.5) rotate(-86) scale(26.9,17.6) rotate(18)"/>
<use href="#fC" transform="translate(527.1,773.6) rotate(26) scale(25.5)"/>
<use href="#fC" transform="translate(566.0,831.3) rotate(9) scale(25.5)"/>
<use href="#fC" transform="translate(593.4,857.2) rotate(61) scale(21.0)"/>
<use href="#fC" transform="translate(227.6,825.5) rotate(72) scale(27.0)"/>
<use href="#fC" transform="translate(144.0,891.7) rotate(34) scale(31.5)"/>
<use href="#fC" transform="translate(227.6,917.7) rotate(35) scale(28.5)"/>
<use href="#fC" transform="translate(20.2,940.7) rotate(6) scale(24.0)"/>
<use href="#fC" transform="translate(410.5,992.6) rotate(7) scale(12.0)"/>
<use href="#fC" transform="translate(738.3,641.1) rotate(76) scale(25.3,16.6) rotate(25)"/>
<use href="#fC" transform="translate(850.6,769.3) rotate(79) scale(30.1,19.7) rotate(60)"/>
<use href="#fC" transform="translate(1127.1,625.3) rotate(-240) scale(23.8,15.6) rotate(2)"/>
<use href="#fC" transform="translate(1072.4,717.5) rotate(-246) scale(31.7,20.7) rotate(38)"/>
<use href="#fC" transform="translate(971.6,809.6) rotate(39) scale(31.5)"/>
<use href="#fC" transform="translate(1023.4,888.9) rotate(2) scale(27.0)"/>
<use href="#fC" transform="translate(1095.4,976.7) rotate(38) scale(30.0)"/>
<use href="#fC" transform="translate(723.9,917.7) rotate(63) scale(22.2,14.5) rotate(70)"/>
<use href="#fC" transform="translate(44.6,1100.8) rotate(-97) scale(26.9,17.6) rotate(50)"/>
<use href="#fC" transform="translate(224.7,1070.6) rotate(26) scale(34.5)"/>
<use href="#fC" transform="translate(139.7,1167.1) rotate(12) scale(30.0)"/>
<use href="#fC" transform="translate(182.9,1181.5) rotate(56) scale(31.5)"/>
<use href="#fC" transform="translate(377.3,1015.8) rotate(38) scale(19.5)"/>
<use href="#fC" transform="translate(442.2,1097.9) rotate(56) scale(33.0)"/>
<use href="#fC" transform="translate(365.8,1190.1) rotate(24) scale(21.0)"/>
<use href="#fC" transform="translate(270.8,1388.9) rotate(16) scale(31.5)"/>
<use href="#fC" transform="translate(335.6,1437.8) rotate(58) scale(33.0)"/>
<use href="#fC" transform="translate(581.9,1434.9) rotate(71) scale(30.0)"/>
<use href="#fC" transform="translate(406.1,1495.4) rotate(61) scale(35.9)"/>
<use href="#fC" transform="translate(201.6,1483.9) rotate(-207) scale(22.2,14.5) rotate(58)"/>
<use href="#fC" transform="translate(641.8,1054.7) rotate(-198) scale(23.8,15.6) rotate(53)"/>
<use href="#fC" transform="translate(965.8,1024.5) rotate(37) scale(35.9)"/>
<use href="#fC" transform="translate(1072.4,1169.9) rotate(11) scale(26.9,17.6) rotate(26)"/>
<use href="#fC" transform="translate(860.7,1233.3) rotate(2) scale(28.5)"/>
<use href="#fC" transform="translate(695.1,1329.8) rotate(20) scale(33.0)"/>
<use href="#fC" transform="translate(1009.0,1288.0) rotate(19) scale(25.5)"/>
<use href="#fC" transform="translate(1037.8,1383.1) rotate(50) scale(28.5)"/>
<use href="#fC" transform="translate(853.5,1420.5) rotate(-20) scale(20.6,13.5) rotate(69)"/>
<use href="#fC" transform="translate(919.0,1516.0) rotate(-205) scale(25.3,16.6) rotate(67)"/>
<use href="#fP" transform="translate(25.9,103.7) rotate(69) scale(13.5)"/>
<use href="#fP" transform="translate(54.7,126.7) rotate(26) scale(15.0)"/>
<use href="#fP" transform="translate(168.5,113.8) rotate(16) scale(30.0)"/>
<use href="#fP" transform="translate(61.9,169.9) rotate(0) scale(30.1,19.7) rotate(16)"/>
<use href="#fP" transform="translate(201.6,247.7) rotate(15) scale(19.5)"/>
<use href="#fP" transform="translate(312.5,103.7) rotate(45) scale(18.0)"/>
<use href="#fP" transform="translate(414.8,290.9) rotate(-1) scale(26.9,17.6) rotate(65)"/>
<use href="#fP" transform="translate(573.2,267.9) rotate(35) scale(31.5)"/>
<use href="#fP" transform="translate(593.4,305.3) rotate(47) scale(27.0)"/>
<use href="#fP" transform="translate(328.4,371.6) rotate(58) scale(30.0)"/>
<use href="#fP" transform="translate(390.3,449.4) rotate(6) scale(19.5)"/>
<use href="#fP" transform="translate(798.8,47.5) rotate(-6) scale(28.5,18.7) rotate(48)"/>
<use href="#fP" transform="translate(867.9,73.5) rotate(56) scale(27.0)"/>
<use href="#fP" transform="translate(1073.8,181.5) rotate(54) scale(24.0)"/>
<use href="#fP" transform="translate(716.7,301.0) rotate(34) scale(30.0)"/>
<use href="#fP" transform="translate(818.9,337.0) rotate(13) scale(31.5)"/>
<use href="#fP" transform="translate(852.0,314.0) rotate(57) scale(21.0)"/>
<use href="#fP" transform="translate(1098.3,331.3) rotate(24) scale(24.0)"/>
<use href="#fP" transform="translate(1071.0,345.7) rotate(58) scale(34.5)"/>
<use href="#fP" transform="translate(1102.6,489.7) rotate(70) scale(12.0)"/>
<use href="#fP" transform="translate(20.2,629.6) rotate(29) scale(28.5)"/>
<use href="#fP" transform="translate(123.9,615.2) rotate(-125) scale(19.0,12.4) rotate(29)"/>
<use href="#fP" transform="translate(288.0,561.9) rotate(52) scale(31.5)"/>
<use href="#fP" transform="translate(443.6,626.7) rotate(12) scale(31.5)"/>
<use href="#fP" transform="translate(501.2,721.8) rotate(9) scale(27.0)"/>
<use href="#fP" transform="translate(400.4,790.9) rotate(-110) scale(25.3,16.6) rotate(11)"/>
<use href="#fP" transform="translate(198.8,896.1) rotate(58) scale(30.0)"/>
<use href="#fP" transform="translate(99.4,955.1) rotate(11) scale(34.5)"/>
<use href="#fP" transform="translate(400.4,914.8) rotate(60) scale(24.0)"/>
<use href="#fP" transform="translate(422.0,894.6) rotate(71) scale(33.0)"/>
<use href="#fP" transform="translate(880.8,564.8) rotate(-79) scale(26.9,17.6) rotate(47)"/>
<use href="#fP" transform="translate(862.1,674.3) rotate(40) scale(33.0)"/>
<use href="#fP" transform="translate(735.4,878.8) rotate(-104) scale(20.6,13.5) rotate(9)"/>
<use href="#fP" transform="translate(829.0,996.9) rotate(70) scale(29.1)"/>
<use href="#fP" transform="translate(700.8,998.3) rotate(47) scale(24.0)"/>
<use href="#fP" transform="translate(178.6,1121.0) rotate(38) scale(30.0)"/>
<use href="#fP" transform="translate(374.5,1051.8) rotate(67) scale(30.0)"/>
<use href="#fP" transform="translate(246.3,1306.8) rotate(31) scale(13.5)"/>
<use href="#fP" transform="translate(416.2,1358.6) rotate(63) scale(25.5)"/>
<use href="#fP" transform="translate(239.1,1365.8) rotate(-8) scale(23.8,15.6) rotate(59)"/>
<use href="#fP" transform="translate(31.7,1410.5) rotate(-202) scale(22.2,14.5) rotate(18)"/>
<use href="#fP" transform="translate(486.8,1495.4) rotate(17) scale(13.5)"/>
<use href="#fP" transform="translate(1062.3,1077.8) rotate(-28) scale(25.3,16.6) rotate(42)"/>
<use href="#fP" transform="translate(903.9,1108.0) rotate(30) scale(33.0)"/>
<use href="#fP" transform="translate(860.7,1167.1) rotate(9) scale(30.0)"/>
<use href="#fP" transform="translate(797.3,1203.1) rotate(33) scale(20.6,13.5) rotate(66)"/>
<use href="#fP" transform="translate(908.2,1298.1) rotate(50) scale(28.5,18.7) rotate(33)"/>
<use href="#fP" transform="translate(692.2,1486.8) rotate(65) scale(25.5)"/>
<use href="#fP" transform="translate(600.0,462.0) rotate(30) scale(25.0)"/>
<use href="#fW" transform="translate(169.9,20.2) rotate(66) scale(28.5)"/>
<use href="#fW" transform="translate(259.2,20.2) rotate(36) scale(30.0)"/>
<use href="#fW" transform="translate(129.6,112.3) rotate(38) scale(27.0)"/>
<use href="#fW" transform="translate(172.8,162.7) rotate(38) scale(31.5)"/>
<use href="#fW" transform="translate(96.5,218.9) rotate(1) scale(27.0)"/>
<use href="#fW" transform="translate(60.5,302.4) rotate(32) scale(30.0)"/>
<use href="#fW" transform="translate(380.2,115.2) rotate(13) scale(30.0)"/>
<use href="#fW" transform="translate(563.1,191.6) rotate(0) scale(28.5)"/>
<use href="#fW" transform="translate(486.8,250.6) rotate(58) scale(24.0)"/>
<use href="#fW" transform="translate(168.5,362.9) rotate(12) scale(28.5)"/>
<use href="#fW" transform="translate(362.9,478.2) rotate(34) scale(22.5)"/>
<use href="#fW" transform="translate(479.6,466.6) rotate(52) scale(27.0)"/>
<use href="#fW" transform="translate(801.6,2.0) rotate(40) scale(24.0)"/>
<use href="#fW" transform="translate(950.0,4.0) rotate(23) scale(30.0)"/>
<use href="#fW" transform="translate(826.1,126.7) rotate(-36) scale(23.8,15.6) rotate(37)"/>
<use href="#fW" transform="translate(1151.6,139.7) rotate(56) scale(31.5)"/>
<use href="#fW" transform="translate(886.6,229.0) rotate(8) scale(30.0)"/>
<use href="#fW" transform="translate(666.3,309.6) rotate(18) scale(22.2,14.5) rotate(40)"/>
<use href="#fW" transform="translate(987.4,293.8) rotate(20) scale(30.0)"/>
<use href="#fW" transform="translate(726.7,383.1) rotate(-13) scale(22.2,14.5) rotate(56)"/>
<use href="#fW" transform="translate(638.9,411.9) rotate(40) scale(30.0)"/>
<use href="#fW" transform="translate(924.1,429.2) rotate(55) scale(28.5)"/>
<use href="#fW" transform="translate(1118.5,420.5) rotate(66) scale(31.5)"/>
<use href="#fW" transform="translate(1033.5,463.8) rotate(32) scale(18.0)"/>
<use href="#fW" transform="translate(79.2,547.5) rotate(44) scale(27.0)"/>
<use href="#fW" transform="translate(138.3,667.1) rotate(36) scale(28.5)"/>
<use href="#fW" transform="translate(74.9,697.3) rotate(37) scale(31.5)"/>
<use href="#fW" transform="translate(414.8,550.4) rotate(50) scale(31.5)"/>
<use href="#fW" transform="translate(292.4,638.3) rotate(71) scale(19.0,12.4) rotate(33)"/>
<use href="#fW" transform="translate(312.5,703.1) rotate(34) scale(22.5)"/>
<use href="#fW" transform="translate(350.0,703.1) rotate(68) scale(28.5)"/>
<use href="#fW" transform="translate(511.3,796.7) rotate(50) scale(30.0)"/>
<use href="#fW" transform="translate(220.4,793.8) rotate(63) scale(33.0)"/>
<use href="#fW" transform="translate(11.5,831.3) rotate(68) scale(33.0)"/>
<use href="#fW" transform="translate(174.3,945.0) rotate(19) scale(31.5)"/>
<use href="#fW" transform="translate(357.2,945.0) rotate(40) scale(31.5)"/>
<use href="#fW" transform="translate(478.2,958.0) rotate(68) scale(31.5)"/>
<use href="#fW" transform="translate(718.1,553.3) rotate(60) scale(31.5)"/>
<use href="#fW" transform="translate(628.8,737.6) rotate(10) scale(27.0)"/>
<use href="#fW" transform="translate(886.6,802.4) rotate(9) scale(31.5)"/>
<use href="#fW" transform="translate(986.0,524.5) rotate(32) scale(30.0)"/>
<use href="#fW" transform="translate(1154.5,644.0) rotate(-62) scale(20.6,13.5) rotate(5)"/>
<use href="#fW" transform="translate(1085.4,762.1) rotate(5) scale(33.0)"/>
<use href="#fW" transform="translate(961.5,762.1) rotate(48) scale(25.5)"/>
<use href="#fW" transform="translate(1014.8,857.2) rotate(56) scale(30.0)"/>
<use href="#fW" transform="translate(1037.8,955.1) rotate(65) scale(31.5)"/>
<use href="#fW" transform="translate(1141.5,966.6) rotate(11) scale(33.0)"/>
<use href="#fW" transform="translate(774.3,958.0) rotate(52) scale(30.0)"/>
<use href="#fW" transform="translate(647.5,958.0) rotate(-150) scale(20.6,13.5) rotate(48)"/>
<use href="#fW" transform="translate(54.7,1061.9) rotate(64) scale(31.5)"/>
<use href="#fW" transform="translate(236.2,1119.5) rotate(70) scale(31.5)"/>
<use href="#fW" transform="translate(118.1,1145.5) rotate(16) scale(19.5)"/>
<use href="#fW" transform="translate(445.0,1056.2) rotate(69) scale(28.5)"/>
<use href="#fW" transform="translate(538.6,1087.9) rotate(29) scale(30.0)"/>
<use href="#fW" transform="translate(325.5,1200.2) rotate(35) scale(31.5)"/>
<use href="#fW" transform="translate(361.5,1360.1) rotate(71) scale(22.5)"/>
<use href="#fW" transform="translate(44.6,1445.0) rotate(60) scale(30.0)"/>
<use href="#fW" transform="translate(795.9,1020.2) rotate(12) scale(27.0)"/>
<use href="#fW" transform="translate(950.0,1106.6) rotate(31) scale(30.0)"/>
<use href="#fW" transform="translate(906.8,1162.7) rotate(37) scale(25.5)"/>
<use href="#fW" transform="translate(1040.7,1145.5) rotate(24) scale(27.0)"/>
<use href="#fW" transform="translate(702.3,1288.0) rotate(14) scale(31.5)"/>
<use href="#fW" transform="translate(621.6,1362.9) rotate(23) scale(33.0)"/>
<use href="#fW" transform="translate(971.6,1296.7) rotate(52) scale(31.5)"/>
<use href="#fW" transform="translate(1072.4,1368.7) rotate(1) scale(33.0)"/>
<use href="#fW" transform="translate(732.5,1442.2) rotate(40) scale(31.5)"/>
<use href="#fW" transform="translate(1029.2,1486.8) rotate(32) scale(31.5)"/>
<use href="#fW" transform="translate(598.0,1099.0) rotate(1) scale(22.9)"/>
<use href="#fW" transform="translate(599.0,1466.0) rotate(24) scale(29.1)"/>
</g>
</defs>
<g transform="translate(641,401)">
<use href="#tb" x="-1181" y="-762"/>
<use href="#tb" x="-1181" y="762"/>
<use href="#tb" x="0" y="-1524"/>
<use href="#tb" x="0" y="0"/>
<use href="#tb" x="0" y="1524"/>
<use href="#tb" x="1181" y="-762"/>
<use href="#tb" x="1181" y="762"/>
<use href="#tb" x="2362" y="-1524"/>
<use href="#tb" x="2362" y="0"/>
<use href="#tb" x="2362" y="1524"/>
<use href="#tf" x="-1181" y="-762"/>
<use href="#tf" x="-1181" y="762"/>
<use href="#tf" x="0" y="-1524"/>
<use href="#tf" x="0" y="0"/>
<use href="#tf" x="0" y="1524"/>
<use href="#tf" x="1181" y="-762"/>
<use href="#tf" x="1181" y="762"/>
<use href="#tf" x="2362" y="-1524"/>
<use href="#tf" x="2362" y="0"/>
<use href="#tf" x="2362" y="1524"/>
</g>
  </g>

  <!-- panel border -->
  <rect x="641" y="401" width="2252" height="1872" fill="none" stroke="#8fa3b0" stroke-width="1"/>

  <!-- dimension lines -->
  <g stroke="#808080" stroke-width="1.5" fill="none">
    <line x1="311" y1="440" x2="311" y2="1184"/>
    <line x1="310.6" y1="1489" x2="310.6" y2="2230"/>
    <line x1="504.3" y1="830" x2="504.3" y2="1340"/>
    <line x1="504.6" y1="1677" x2="504.6" y2="2230"/>
    <line x1="680" y1="2406" x2="1566.5" y2="2406"/>
    <line x1="1993.5" y1="2406" x2="2850" y2="2406"/>
  </g>
  <g stroke="#666" stroke-width="1.3" fill="none">
    <line x1="647" y1="2273" x2="647" y2="2314"/>
    <line x1="1206" y1="2273" x2="1206" y2="2313.5"/>
    <line x1="1768" y1="2273" x2="1768" y2="2313.5"/>
    <line x1="2327.5" y1="2273" x2="2327.5" y2="2313.5"/>
    <line x1="2889.5" y1="2273" x2="2889.5" y2="2314.5"/>
  </g>
  <!-- arrow heads -->
  <g fill="#231f20">
    <polygon points="310.8,405.2 334.3,451.5 286.8,451.5"/>
    <polygon points="310.2,2263.5 334,2217.3 286.9,2217.3"/>
    <polygon points="504.3,793.1 527.4,838.8 480.6,838.8"/>
    <polygon points="504.8,2263.5 528.2,2218 482,2218"/>
    <polygon points="644.8,2406 690.9,2382.8 690.9,2429.7"/>
    <polygon points="2887.8,2406 2841.1,2382.8 2841.1,2429.7"/>
  </g>
</svg>

<!-- vertical labels (rotated 90deg clockwise) -->
<div class="vt" id="v1" style="left:375px; top:1187px; letter-spacing:1.4px;">Panel height</div>
<div class="vt vm" id="v2" style="left:296px; top:1156px;">10ft / 3.05 meters</div>
<div class="vt" id="v3" style="left:569px; top:1367px; letter-spacing:0.85px;">Panel height</div>
<div class="vt vm" id="v4" style="left:495px; top:1339px;">8ft / 2.44 meters</div>

<!-- bottom labels -->
<div class="num" style="left:919.5px;">1</div>
<div class="num" style="left:1481px;">2</div>
<div class="num" style="left:2043px;">3</div>
<div class="num" style="left:2602.5px;">4</div>
<div class="ht" id="b1" style="left:1602px; top:2378px;">12ft  / 3.66 meters</div>

</body>
</html>
